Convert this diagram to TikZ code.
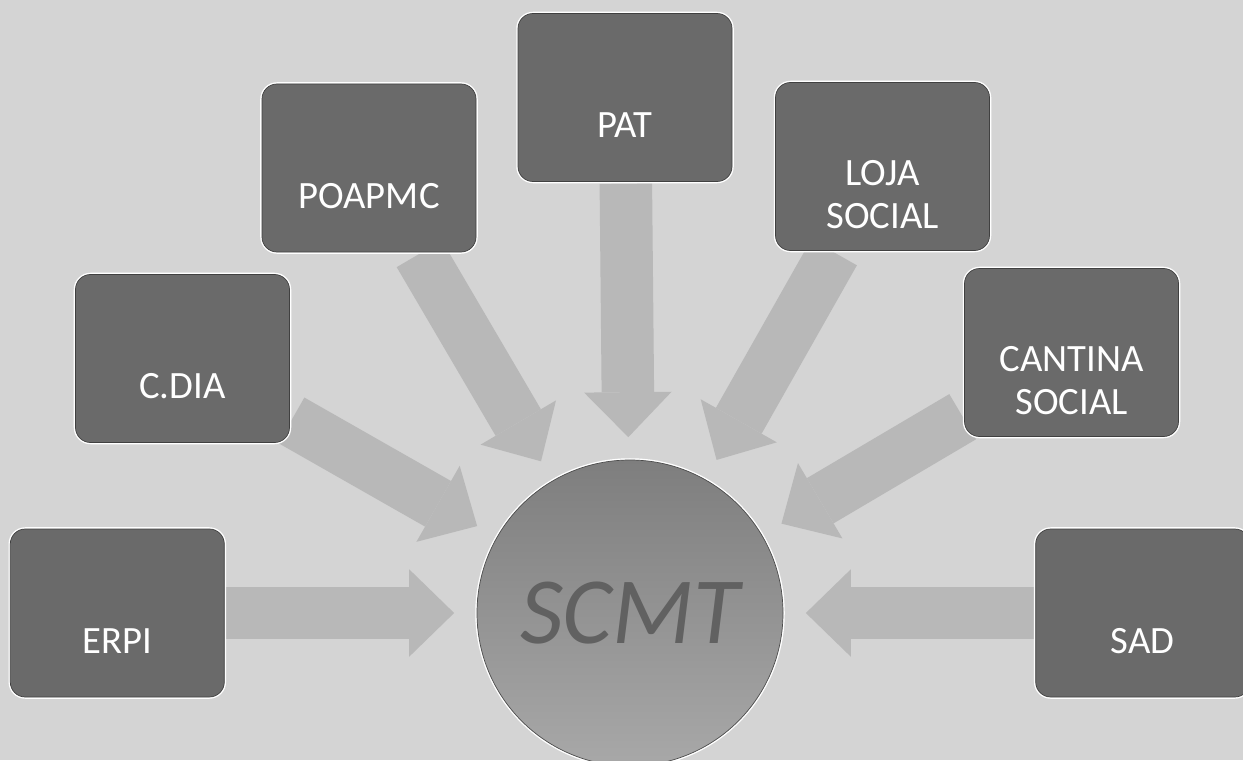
\documentclass[tikz,border=0pt]{standalone}
\usepackage{fontspec}
\setmainfont{Carlito}
\usetikzlibrary{positioning}
\usetikzlibrary{arrows.meta}
\usetikzlibrary{backgrounds}

\definecolor{paper}{RGB}{212,212,212}
\definecolor{arrowgray}{RGB}{184,184,184}
\definecolor{boxgray}{RGB}{106,106,106}
\definecolor{hubtop}{RGB}{126,126,126}
\definecolor{hubbottom}{RGB}{168,168,168}

\pgfdeclarelayer{paper}
\pgfsetlayers{paper,background,main}

\begin{document}
\begin{tikzpicture}[
            > = {Triangle[length=0.9cm, width=1.75cm, line width=0pt, fill=arrowgray]}, % broad arrow head
            node distance = 5.04cm, % gap between side boxes and the hub
            thin % line style
        ]

        \tikzstyle{service}=[
            draw = black!75,
            fill = boxgray,
            rounded corners = 0.3cm,
            minimum width = 4.28cm,
            minimum height = 3.36cm,
            preaction = {draw = white, line width = 2pt}
        ]
        \tikzstyle{caption}=[
            text = white,
            font = \fontsize{22}{24.5}\selectfont,
            align = center,
            yshift = -0.56cm
        ]
        \tikzstyle{flow}=[
            ->,
            draw = arrowgray,
            line width = 1.05cm,
            shorten > = 0.45cm,
            shorten < = 1pt
        ]

        \useasboundingbox (0,0) rectangle (24.86,15.2);

	% CENTRAL HUB
        \node[circle, minimum size = 6.12cm, draw = black!70, top color = hubtop, bottom color = hubbottom,
              preaction = {draw = white, line width = 2pt},
              text = black!62, font = \fontsize{54}{60}\selectfont\itshape] (scmt) at (12.6,2.94) {SCMT};

	% SIDE SERVICES
        \node[service, label = {[caption]center:ERPI}] (erpi) [left = of scmt] {};
        \node[service, label = {[caption]center:SAD}] (sad) [right = of scmt] {};

	% UPPER SERVICES
        \node[service, label = {[caption]center:C.DIA}] (cdia) at (3.65,8.03) {};
        \node[service, label = {[caption]center:POAPMC}] (poapmc) at (7.38,11.84) {};
        \node[service, label = {[caption]center:PAT}] (pat) at (12.5,13.25) {};
        \node[service, label = {[caption]center:{LOJA\\SOCIAL}}] (loja) at (17.65,11.87) {};
        \node[service, label = {[caption]center:{CANTINA\\SOCIAL}}] (cantina) at (21.43,8.15) {};

	% ARROWS INTO THE HUB
       	\begin{scope}[on background layer]
        \path[flow] (erpi) edge (scmt);
        \path[flow] (cdia) edge (scmt);
        \path[flow] (poapmc) edge (scmt);
        \path[flow] (pat) edge (scmt);
        \path[flow] (loja) edge (scmt);
        \path[flow] (cantina) edge (scmt);
        \path[flow] (sad) edge (scmt);
	  \end{scope}

        \begin{pgfonlayer}{paper}
        \fill[paper] (0,0) rectangle (24.86,15.2);
        \end{pgfonlayer}

  \end{tikzpicture}
\end{document}
